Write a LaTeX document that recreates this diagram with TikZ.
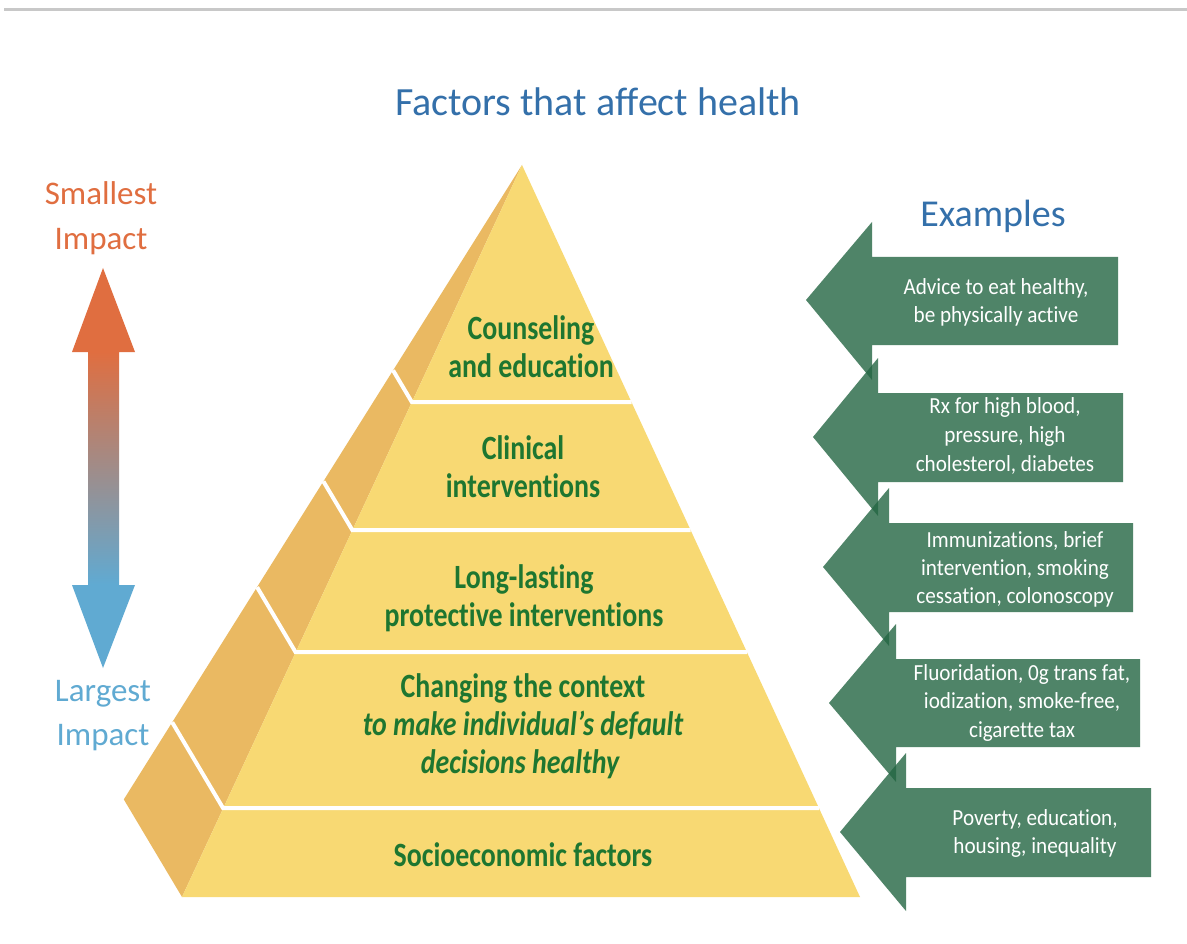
\documentclass[tikz,border=0pt]{standalone}
\usepackage{fontspec}
\setmainfont{Carlito}[Ligatures=CommonOff]
\newfontfamily\pyrfont{Carlito}[FakeStretch=0.82,Ligatures=CommonOff]
\newfontfamily\exfont{Carlito}[FakeStretch=0.92,Ligatures=CommonOff]
\definecolor{titleblue}{RGB}{52,112,170}
\definecolor{smallorange}{RGB}{224,110,64}
\definecolor{largeblue}{RGB}{96,170,210}
\definecolor{frontface}{RGB}{248,217,115}
\definecolor{sideface}{RGB}{234,185,98}
\definecolor{pyrgreen}{RGB}{30,118,48}
\definecolor{arrowgreen}{RGB}{36,102,67}
\definecolor{rulegray}{RGB}{200,200,200}
\pgfdeclareverticalshading{impactshade}{100bp}{color(0bp)=(largeblue); color(35.5bp)=(largeblue); color(64.5bp)=(smallorange); color(100bp)=(smallorange)}
\begin{document}
\begin{tikzpicture}[x=1pt,y=-1pt,
  pyrtext/.style={text=pyrgreen, font=\pyrfont\bfseries\fontsize{34}{38}\selectfont, anchor=base, inner sep=0pt},
  pyritext/.style={pyrtext, font=\pyrfont\bfseries\itshape\fontsize{34}{38}\selectfont},
  extext/.style={text=white, font=\exfont\fontsize{23}{28}\selectfont, anchor=base, inner sep=0pt},
  exarrow/.style={fill=arrowgreen, fill opacity=0.8},
  gap/.style={draw=white, line width=4pt},
  headtext/.style={anchor=base, inner sep=0pt}]
\useasboundingbox (0,0) rectangle (1187,944);
\fill[white] (0,0) rectangle (1187,944);
% top rule
\coordinate (ruleL) at (4,10);
\coordinate (ruleR) at (1187,10);
\draw[rulegray, line width=3pt] (ruleL) -- (ruleR);
% title
\node[headtext, text=titleblue, font=\fontsize{40}{44}\selectfont] (title) at (598,116) {Factors that affect health};
\node[headtext, text=titleblue, font=\fontsize{38}{42}\selectfont] (examples) at (993,227) {Examples};
% impact labels
\node[headtext, text=smallorange, font=\fontsize{33}{36}\selectfont] (small1) at (101,205) {Smallest};
\node[headtext, text=smallorange, font=\fontsize{33}{36}\selectfont] (small2) at (101,250) {Impact};
\node[headtext, text=largeblue, font=\fontsize{33}{36}\selectfont] (large1) at (103,701) {Largest};
\node[headtext, text=largeblue, font=\fontsize{33}{36}\selectfont] (large2) at (103,745) {Impact};
% double arrow
\shade[shading=impactshade] (103,268) -- (135,352) -- (119,352) -- (119,585) -- (135,585) -- (103,668) -- (72,585) -- (88,585) -- (88,352) -- (72,352) -- cycle;
% pyramid
\coordinate (apex) at (522,165);
\coordinate (fl5) at (182,897);
\coordinate (ob) at (123.8,799.4);
\coordinate (br) at (860,897);
\fill[sideface] (apex) -- (ob) -- (fl5) -- cycle;
\fill[frontface] (apex) -- (fl5) -- (br) -- cycle;
\coordinate (o1) at (393.1,370.4); \coordinate (f1) at (411.8,402); \coordinate (r1) at (631.5,402);
\coordinate (o2) at (323.4,481.4); \coordinate (f2) at (352.3,530); \coordinate (r2) at (690.6,530);
\coordinate (o3) at (257.1,587.2); \coordinate (f3) at (295.5,652); \coordinate (r3) at (747.0,652);
\coordinate (o4) at (172.2,722.3); \coordinate (f4) at (223.0,808); \coordinate (r4) at (819.1,808);
\draw[gap] (o1) -- (f1) -- (r1);
\draw[gap] (o2) -- (f2) -- (r2);
\draw[gap] (o3) -- (f3) -- (r3);
\draw[gap] (o4) -- (f4) -- (r4);
% pyramid texts
\node[pyrtext] (l1a) at (531,340) {Counseling};
\node[pyrtext] (l1b) at (531,377) {and education};
\node[pyrtext] (l2a) at (523,459) {Clinical};
\node[pyrtext] (l2b) at (523,497) {interventions};
\node[pyrtext] (l3a) at (524,588) {Long-lasting};
\node[pyrtext] (l3b) at (524,626) {protective interventions};
\node[pyrtext] (l4a) at (523,697) {Changing the context};
\node[pyritext] (l4b) at (523,735) {to make individual’s default};
\node[pyritext] (l4c) at (520,773) {decisions healthy};
\node[pyrtext] (l5a) at (523,866) {Socioeconomic factors};
% example arrows
\fill[exarrow] (806,300) -- (872,222) -- (872,257) -- (1118,257) -- (1118,345) -- (872,345) -- (872,380) -- cycle;
\fill[exarrow] (813,437) -- (878,358) -- (878,393) -- (1123,393) -- (1123,482) -- (878,482) -- (878,516) -- cycle;
\fill[exarrow] (823,567) -- (889,488) -- (889,523) -- (1133,523) -- (1133,612) -- (889,612) -- (889,646) -- cycle;
\fill[exarrow] (829,703) -- (896,624) -- (896,659) -- (1140,659) -- (1140,747) -- (896,747) -- (896,782) -- cycle;
\fill[exarrow] (840,832) -- (906,753) -- (906,788) -- (1151,788) -- (1151,877) -- (906,877) -- (906,911) -- cycle;
\node[extext] (e1a) at (996,295) {Advice to eat healthy,};
\node[extext] (e1b) at (996,323) {be physically active};
\node[extext] (e2a) at (1005,413) {Rx for high blood,};
\node[extext] (e2b) at (1005,442) {pressure, high};
\node[extext] (e2c) at (1005,471) {cholesterol, diabetes};
\node[extext] (e3a) at (1015,547) {Immunizations, brief};
\node[extext] (e3b) at (1015,575) {intervention, smoking};
\node[extext] (e3c) at (1015,603) {cessation, colonoscopy};
\node[extext] (e4a) at (1022,680) {Fluoridation, 0g trans fat,};
\node[extext] (e4b) at (1022,708) {iodization, smoke-free,};
\node[extext] (e4c) at (1022,737) {cigarette tax};
\node[extext] (e5a) at (1035,825) {Poverty, education,};
\node[extext] (e5b) at (1035,853) {housing, inequality};
\end{tikzpicture}
\end{document}
